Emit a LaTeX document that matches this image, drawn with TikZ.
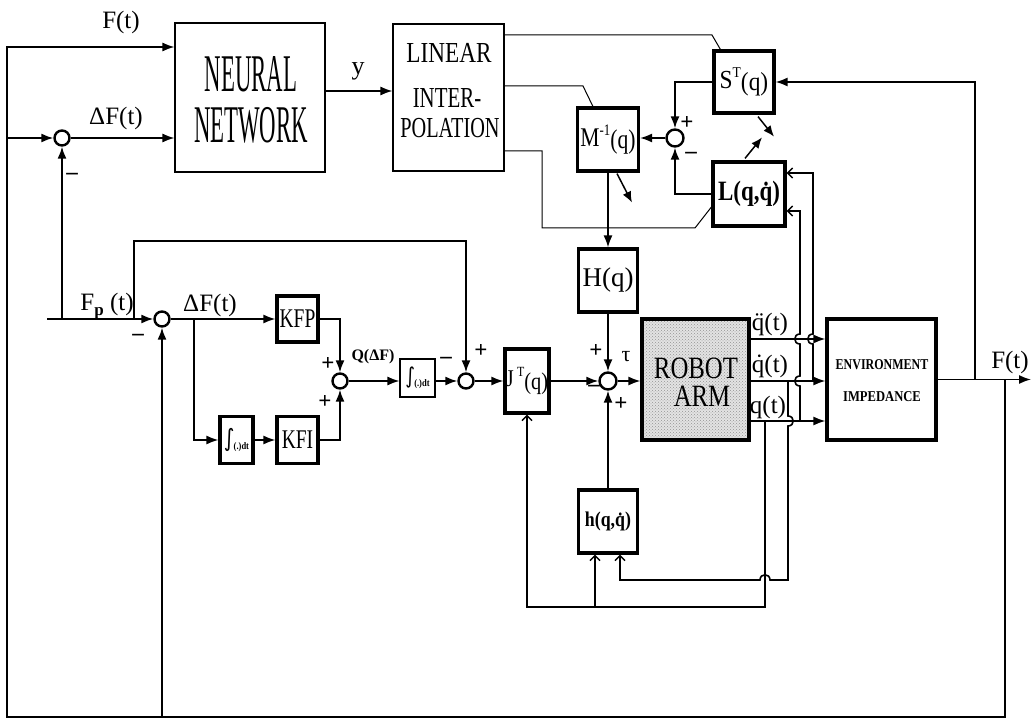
\documentclass[tikz,border=0pt]{standalone}
\usepackage{fontspec}
\setmainfont{Liberation Serif}
\newfontfamily\symfont{DejaVu Sans}
\usetikzlibrary{arrows.meta,patterns,calc}
\newcommand\myfs[1]{\fontsize{#1}{#1}\selectfont}
\newcommand\myint[1]{\raisebox{2pt}{\symfont\myfs{#1}∫}\kern-1pt\raisebox{-1pt}{\myfs{10}\bfseries(.)dt}}
\begin{document}
\begin{tikzpicture}[x=1pt,y=-1pt,
  wire/.style={line width=1.6pt},
  thinwire/.style={line width=1pt},
  arr/.style={wire,-{Latex[length=12pt,width=9pt]}},
  darr/.style={line width=1.5pt,-{Latex[length=11pt,width=9pt]}},
  oarr/.style={wire,-{Straight Barb[length=5pt,width=10pt,line width=1.5pt]}},
  thickbox/.style={draw,line width=3.2pt,inner sep=0},
  thinbox/.style={draw,line width=1.1pt,inner sep=0},
  sumc/.style={circle,draw,line width=2.4pt,minimum size=15pt,inner sep=0},
  txt/.style={inner sep=0},
  lbl/.style={inner sep=0,font=\myfs{25}},
  sgn/.style={inner sep=0,font=\myfs{23}\bfseries}
]
\useasboundingbox (0,0) rectangle (1031,719);
\fill[white] (0,0) rectangle (1031,719);

% ---------- blocks ----------
\node[thinbox,minimum width=150pt,minimum height=149pt] (nn) at (250,97.5) {};
\node[txt,font=\myfs{53}] (nnA) at (251,74.5) {\scalebox{0.43}[1]{NEURAL}};
\node[txt,font=\myfs{53}] (nnB) at (251,125) {\scalebox{0.43}[1]{NETWORK}};

\node[thinbox,minimum width=111pt,minimum height=147pt] (li) at (448.5,97.5) {};
\node[txt,font=\myfs{29}] (liA) at (449,52.5) {\scalebox{0.8}[1]{LINEAR}};
\node[txt,font=\myfs{29}] (liB) at (447,98) {\scalebox{0.72}[1]{INTER-}};
\node[txt,font=\myfs{29}] (liC) at (450,128) {\scalebox{0.7}[1]{POLATION}};

\node[thickbox,minimum width=60pt,minimum height=62pt] (s) at (744,82)
  {\scalebox{0.9}[1]{\myfs{26}S\raisebox{11pt}{\myfs{15}T}\raisebox{-2pt}{(q)}}};
\node[thickbox,minimum width=61pt,minimum height=63pt] (m) at (608,139.5)
  {\scalebox{0.8}[1]{\myfs{27}M\raisebox{11pt}{\myfs{16}-1}\raisebox{-2pt}{(q)}}};
\node[thickbox,minimum width=72pt,minimum height=64pt] (l) at (749,194)
  {\scalebox{0.82}[1]{\myfs{28}\bfseries L(q,\.q)}};
\node[thickbox,minimum width=59pt,minimum height=63pt] (hq) at (608,280.5)
  {\myfs{27}H(q)};
\node[thickbox,minimum width=44pt,minimum height=64pt] (jt) at (527,381)
  {\scalebox{0.85}[1]{\myfs{24}J\,\raisebox{10pt}{\myfs{14}T}\raisebox{-3pt}{(q)}}};
\node[thickbox,minimum width=59pt,minimum height=63pt] (hb) at (608,521.5)
  {\scalebox{0.85}[1]{\myfs{21}\bfseries h(q,\.q)}};

\node[draw,line width=3.2pt,inner sep=0,minimum width=107pt,minimum height=121pt,
  preaction={fill=gray!22},pattern=crosshatch dots,pattern color=gray!85] (robot) at (695.5,379.5) {};
\node[txt,font=\myfs{31}] (rA) at (696,368) {\scalebox{0.8}[1]{ROBOT}};
\node[txt,font=\myfs{31}] (rB) at (702,396) {\scalebox{0.8}[1]{ARM}};

\node[thickbox,minimum width=109pt,minimum height=121pt] (env) at (881.5,379.5) {};
\node[txt,font=\myfs{15}\bfseries] (eA) at (882,365) {\scalebox{0.8}[1]{ENVIRONMENT}};
\node[txt,font=\myfs{15}\bfseries] (eB) at (882,397) {\scalebox{0.84}[1]{IMPEDANCE}};

\node[thickbox,minimum width=41pt,minimum height=46pt] (kfp) at (297.5,319)
  {\myfs{27}\scalebox{0.72}[1]{KFP}};
\node[thickbox,minimum width=41pt,minimum height=47pt] (kfi) at (297.5,440)
  {\myfs{27}\scalebox{0.72}[1]{KFI}};
\node[thickbox,minimum width=33pt,minimum height=47pt] (int1) at (236.5,440)
  {\scalebox{0.85}[1]{\myint{24}}};
\node[thinbox,minimum width=35pt,minimum height=38pt] (int2) at (417.5,378)
  {\scalebox{0.85}[1]{\myint{22}}};

% ---------- summing junctions ----------
\node[sumc] (c0) at (62,138) {};
\node[sumc] (c1) at (162,319) {};
\node[sumc] (c2) at (340,381) {};
\node[sumc] (c3) at (466,381) {};
\node[sumc,minimum size=17pt] (c4) at (675,138) {};
\node[sumc,minimum size=17pt] (tau) at (608,381) {};

% ---------- coordinates ----------
\coordinate (ftA) at (975,379.5);
\coordinate (ftB) at (1005,379.5);
\coordinate (ftE) at (1031,379.5);
\coordinate (br) at (1005,717);
\coordinate (bl) at (7,717);
\coordinate (tl) at (7,47);
\coordinate (ml) at (7,138);
\coordinate (fpin) at (47,319);
\coordinate (fpb) at (134,319);
\coordinate (fpt) at (134,241);
\coordinate (br1) at (194,319);
\coordinate (ny) at (330,91);
\coordinate (la) at (600,35);
\coordinate (lb) at (600,86);
\coordinate (lc) at (600,151);
\coordinate (yqdd) at (780,339);
\coordinate (yqd) at (780,381);
\coordinate (yq) at (780,421);
\coordinate (lin1) at (813,173);
\coordinate (lin2) at (800,211);
\coordinate (hin1) at (595,607);
\coordinate (hin2) at (620,580);
\coordinate (bot) at (765,607);

% ---------- outer force loop ----------
\draw[arr] (env.east) -- (ftE);
\draw[arr] (ftA) |- (s.east);
\draw[arr] (ftB) -- (br) -- (bl) -- (tl) -- (nn.west |- tl);
\draw[arr] (ml) -- (c0.west);
\draw[arr] (c0.east) -- (nn.west |- c0.east);
\draw[arr] (c1.south |- bl) -- (c1.south);
\draw[arr] (nn.east |- ny) -- (li.west |- ny);

% ---------- force controller ----------
\draw[arr] (fpin) -- (c1.west);
\draw[arr] (c0.south |- fpin) -- (c0.south);
\draw[arr] (fpb) -- (fpt) -| (c3.north);
\draw[arr] (c1.east) -- (kfp.west);
\draw[arr] (br1) |- (int1.west);
\draw[arr] (int1.east) -- (kfi.west);
\draw[arr] (kfp.east) -| (c2.north);
\draw[arr] (kfi.east) -| (c2.south);
\draw[arr] (c2.east) -- (int2.west |- c2.east);
\draw[arr] (int2.east |- c3.west) -- (c3.west);
\draw[arr] (c3.east) -- (jt.west |- c3.east);
\draw[arr] (jt.east |- tau.west) -- (tau.west);
\draw[arr] (tau.east) -- (robot.west |- tau.east);
\draw[arr] (m.south) -- (hq.north);
\draw[arr] (hq.south) -- (tau.north);
\draw[arr] (hb.north) -- (tau.south);

% ---------- robot outputs ----------
\draw[arr] (robot.east |- yqdd) -- (env.west |- yqdd);
\draw[arr] (robot.east |- yqd) -- (env.west |- yqd);
\draw[arr] (robot.east |- yq) -- (env.west |- yq);

\draw[oarr] (813,381) -- (813,344) .. controls (806,344) and (806,334) .. (813,334) -- (lin1) -- (l.east |- lin1);
\draw[oarr] (800,421) -- (800,386) .. controls (793,386) and (793,376) .. (800,376)
  -- (800,344) .. controls (793,344) and (793,334) .. (800,334) -- (lin2) -- (l.east |- lin2);
\draw[oarr] (788,381) -- (788,416) .. controls (795,416) and (795,426) .. (788,426)
  -- (788,580) -- (770,580) .. controls (770,573) and (760,573) .. (760,580) -- (hin2) -- (hin2 |- hb.south);
\draw[oarr] (765,421) -- (bot) -| (jt.south);
\draw[oarr] (hin1) -- (hin1 |- hb.south);

% ---------- adaptation part ----------
\draw[arr] (s.west) -| (c4.north);
\draw[arr] (l.west) -| (c4.south);
\draw[arr] (c4.west) -- (m.east |- c4.west);
\draw[darr] ($(m.south)+(9,1)$) -- ++(15,29);
\draw[darr] ($(s.south)+(14,2)$) -- ++(16,20);
\draw[darr] ($(l.north)+(-4,-2)$) -- ++(17,-21);
\draw[thinwire] (li.east |- la) -- (712,35) -- ($(s.north west)+(8,0)$);
\draw[thinwire] (li.east |- lb) -- (583,86) -- ($(m.north west)+(17,0)$);
\draw[thinwire] (li.east |- lc) -- (542,151) -- (542,228) -- (695,228) -- ($(l.west)+(0,13)$);

% ---------- labels ----------
\node[lbl] (tF) at (121,22) {F(t)};
\node[lbl] (tdF) at (116,118) {ΔF(t)};
\node[sgn] (s0) at (72,176) {–};
\node[lbl,font=\myfs{26}] (ty) at (358,71) {y};
\node[lbl] (tFp) at (107,306) {F\raisebox{-5pt}{\myfs{17}\bfseries p} (t)};
\node[sgn] (s1) at (138,337) {–};
\node[lbl] (tdF2) at (210,305) {ΔF(t)};
\node[sgn] (s2) at (328,364) {+};
\node[sgn] (s3) at (325,402) {+};
\node[lbl,font=\myfs{16}\bfseries] (tQ) at (373,357) {Q(ΔF)};
\node[sgn] (s4) at (446,360) {–};
\node[sgn] (s5) at (481,351) {+};
\node[sgn] (s6) at (596,351) {+};
\node[lbl,font=\myfs{22}] (ttau) at (626,357) {τ};
\node[sgn] (s7) at (594,388) {–};
\node[sgn] (s8) at (621,404) {+};
\node[sgn] (s9) at (687,123) {+};
\node[sgn] (s10) at (691,155) {–};
\node[lbl] (tqdd) at (770,324) {\"q(t)};
\node[lbl] (tqd) at (770,366) {\.q(t)};
\node[lbl] (tq) at (768,407) {q(t)};
\node[lbl] (tF2) at (1010,362) {F(t)};
\end{tikzpicture}
\end{document}
